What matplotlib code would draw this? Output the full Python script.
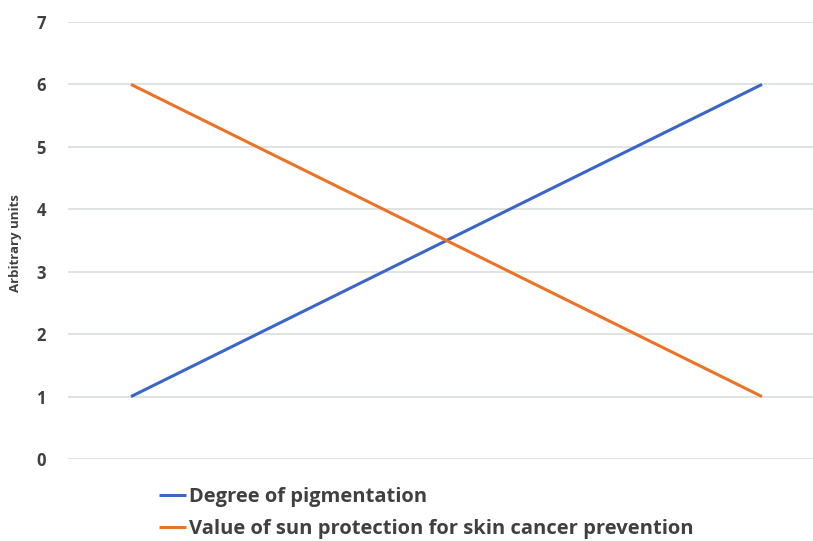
import numpy as np
import matplotlib
matplotlib.use("Agg")
import matplotlib.pyplot as plt

plt.rcParams['font.family'] = ['Open Sans', 'DejaVu Sans']

# data
x_pos = [1, 2]
pigmentation = [1, 6]
sun_protection = [6, 1]
labels = ["Degree of pigmentation",
          "Value of sun protection for skin cancer prevention"]
y_ticks = [0, 1, 2, 3, 4, 5, 6, 7]

fig = plt.figure(figsize=(8.13, 5.41), dpi=100)
ax = fig.add_axes([68/813, 82/541, 1 - 68/813, (459 - 22)/541])

ax.plot(x_pos, pigmentation, color='#3A66C9', lw=2.2, label=labels[0], solid_capstyle='butt')
ax.plot(x_pos, sun_protection, color='#EC7226', lw=2.2, label=labels[1], solid_capstyle='butt')

ax.set_xlim(1 - 63/631, 2 + 51/631)
ax.set_ylim(0, 7)
ax.set_yticks(y_ticks)
ax.set_xticks([])
ax.yaxis.grid(True, color='#DADFDA', lw=1.2)
ax.set_axisbelow(True)
for s in ax.spines.values():
    s.set_visible(False)
ax.tick_params(axis='y', length=0, pad=16, labelsize=12, labelcolor='#404040')
for t in ax.get_yticklabels():
    t.set_fontweight('bold')

fig.text(16/813, 1 - 243/541, "Arbitrary units", rotation=90, ha='center', va='center',
         fontsize=9.5, fontweight='bold', color='#404040')

fig.legend(loc='upper left', bbox_to_anchor=(141/813, 1 - 469/541), frameon=False,
           handlelength=1.35, handletextpad=0.15, labelspacing=0.6,
           labelcolor='#404040', prop={'weight': 'bold', 'size': 14.5})

fig.savefig('out.png', dpi=100)
